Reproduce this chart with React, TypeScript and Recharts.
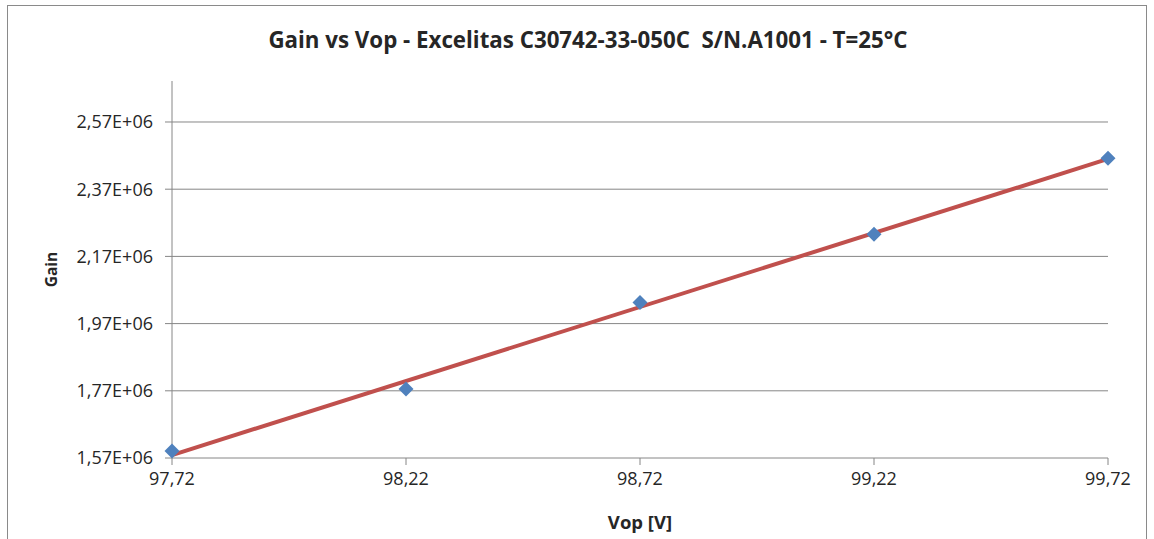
import React from "react";
import { ScatterChart, Scatter, XAxis, YAxis, ReferenceLine, Label } from "recharts";

const vop = [97.72, 98.22, 98.72, 99.22, 99.72];
const gain = [1591000, 1775000, 2033000, 2236000, 2462000];
const xTicks = [97.72, 98.22, 98.72, 99.22, 99.72];
const yTicks = [1570000, 1770000, 1970000, 2170000, 2370000, 2570000];
const yMax = 2692000;

const points = vop.map((v, i) => ({ x: v, y: gain[i] }));

// least-squares linear trendline computed from the measured points
const n = vop.length;
const mx = vop.reduce((a, b) => a + b, 0) / n;
const my = gain.reduce((a, b) => a + b, 0) / n;
const sxy = vop.reduce((a, v, i) => a + (v - mx) * (gain[i] - my), 0);
const sxx = vop.reduce((a, v) => a + (v - mx) * (v - mx), 0);
const slope = sxy / sxx;
const intercept = my - slope * mx;
const trend = [vop[0], vop[n - 1]].map((v) => ({ x: v, y: intercept + slope * v }));

const FONT = "'Open Sans', 'DejaVu Sans', sans-serif";
const TXT = "#262626";
const AX = "#868686";

const fmtX = (v: number) => v.toFixed(2).replace(".", ",");
const fmtY = (v: number) => {
  const e = v.toExponential(2);
  const [m, ex] = e.split("e");
  const exp = parseInt(ex, 10);
  const s = (exp >= 0 ? "+" : "-") + String(Math.abs(exp)).padStart(2, "0");
  return m.replace(".", ",") + "E" + s;
};

const Diamond = (props: any) => {
  const { cx, cy } = props;
  if (cx == null || cy == null) return null;
  const r = 7.5;
  return (
    <polygon
      points={`${cx},${cy - r} ${cx + r},${cy} ${cx},${cy + r} ${cx - r},${cy}`}
      fill="#4F81BD"
    />
  );
};

const NoShape = () => null;

export default function App() {
  return (
    <div style={{ position: "absolute", left: 0, top: 0, width: 1154, height: 539, background: "#fff", overflow: "hidden" }}>
      <div style={{ position: "absolute", left: 7, top: 5, width: 1140, height: 560, border: "1px solid #8a8a8a", boxSizing: "border-box" }} />
      <div
        style={{
          position: "absolute",
          left: 0,
          top: 25,
          width: 1176,
          textAlign: "center",
          fontFamily: FONT,
          fontWeight: 700,
          fontSize: 22.3,
          color: TXT,
          whiteSpace: "pre",
          lineHeight: "30px",
        }}
      >
        {"Gain vs Vop - Excelitas C30742-33-050C  S/N.A1001 - T=25°C"}
      </div>
      <div style={{ position: "absolute", left: 0, top: 0 }}>
        <ScatterChart width={1154} height={539} margin={{ top: 81, right: 46, bottom: 0, left: 0 }}>
          {yTicks.slice(1).map((t) => (
            <ReferenceLine key={t} y={t} stroke={AX} strokeWidth={1} />
          ))}
          <XAxis
            type="number"
            dataKey="x"
            domain={[97.72, 99.72]}
            ticks={xTicks}
            tickFormatter={fmtX}
            height={81}
            stroke={AX}
            tickSize={7}
            tickMargin={7}
            tick={{ fill: TXT, fontSize: 18, fontFamily: FONT }}
          >
            <Label
              value="Vop [V]"
              position="insideBottom"
              offset={10}
              style={{ fill: TXT, fontSize: 18.5, fontWeight: 700, fontFamily: FONT }}
            />
          </XAxis>
          <YAxis
            type="number"
            dataKey="y"
            domain={[1570000, yMax]}
            ticks={yTicks}
            tickFormatter={fmtY}
            width={172}
            stroke={AX}
            tickSize={7}
            tickMargin={12}
            tick={{ fill: TXT, fontSize: 18, fontFamily: FONT }}
          >
            <Label
              value="Gain"
              angle={-90}
              position="insideLeft"
              offset={51}
              style={{ fill: TXT, fontSize: 15.5, fontWeight: 700, fontFamily: FONT, textAnchor: "middle" }}
            />
          </YAxis>
          <Scatter
            data={trend}
            line={{ stroke: "#C0504D", strokeWidth: 4 }}
            shape={NoShape}
            isAnimationActive={false}
          />
          <Scatter data={points} shape={Diamond} isAnimationActive={false} />
        </ScatterChart>
      </div>
    </div>
  );
}
